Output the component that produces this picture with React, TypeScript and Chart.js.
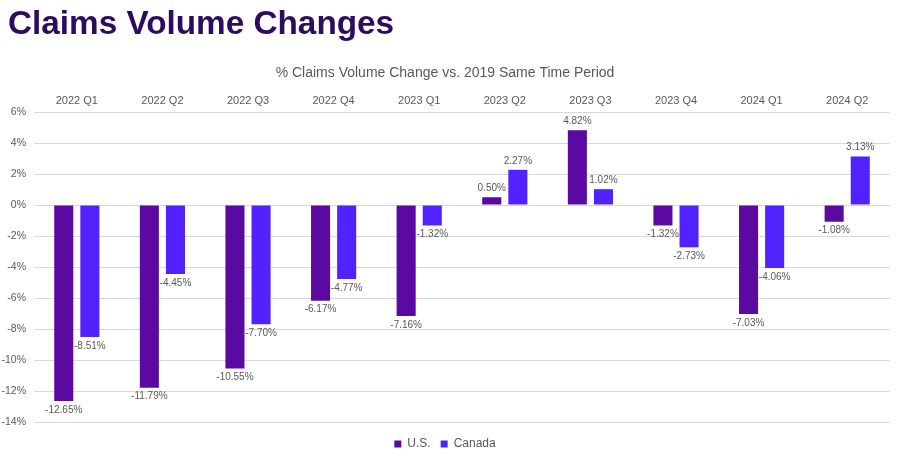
import React, { useEffect, useRef } from "react";
import { Chart, registerables } from "chart.js";

Chart.register(...registerables);

const categories = ["2022 Q1", "2022 Q2", "2022 Q3", "2022 Q4", "2023 Q1", "2023 Q2", "2023 Q3", "2023 Q4", "2024 Q1", "2024 Q2"];
const usValues = [-12.65, -11.79, -10.55, -6.17, -7.16, 0.5, 4.82, -1.32, -7.03, -1.08];
const canadaValues = [-8.51, -4.45, -7.7, -4.77, -1.32, 2.27, 1.02, -2.73, -4.06, 3.13];
const seriesNames = ["U.S.", "Canada"];
const titleText = "Claims Volume Changes";
const subtitleText = "% Claims Volume Change vs. 2019 Same Time Period";

const FONT = "'Liberation Sans', Arial, sans-serif";

const valueLabels = {
  id: "valueLabels",
  afterDatasetsDraw(chart: any) {
    const ctx = chart.ctx;
    ctx.save();
    ctx.font = `10px ${FONT}`;
    ctx.fillStyle = "#595959";
    ctx.textAlign = "center";
    chart.data.datasets.forEach((ds: any, i: number) => {
      const meta = chart.getDatasetMeta(i);
      meta.data.forEach((el: any, j: number) => {
        const v = ds.data[j];
        const txt = v.toFixed(2) + "%";
        if (v >= 0) {
          ctx.textBaseline = "bottom";
          ctx.fillText(txt, el.x, el.y - 4);
        } else {
          ctx.textBaseline = "top";
          ctx.fillText(txt, el.x, el.y + 4);
        }
      });
    });
    ctx.restore();
  },
};

export default function App() {
  const ref = useRef<HTMLCanvasElement | null>(null);
  useEffect(() => {
    if (!ref.current) return;
    const chart = new Chart(ref.current, {
      type: "bar",
      data: {
        labels: categories,
        datasets: [
          { label: seriesNames[0], data: usValues, backgroundColor: "#5A0AA0" },
          { label: seriesNames[1], data: canadaValues, backgroundColor: "#5222FE" },
        ],
      },
      options: {
        animation: false,
        responsive: false,
        maintainAspectRatio: false,
        layout: { padding: { left: 0, right: 10, top: 65, bottom: 0 } },
        datasets: { bar: { categoryPercentage: 0.61, barPercentage: 0.73 } },
        plugins: {
          title: { display: false },
          subtitle: {
            display: true,
            text: subtitleText,
            color: "#595959",
            font: { family: FONT, size: 14 },
            padding: { top: 0, bottom: 9 },
          },
          legend: {
            position: "bottom",
            title: { display: true, text: " ", font: { size: 5 }, padding: 0 },
            labels: {
              boxWidth: 7,
              boxHeight: 7,
              color: "#595959",
              font: { family: FONT, size: 12 },
              padding: 10,
            },
          },
          tooltip: { enabled: false },
        },
        scales: {
          x: {
            position: "top",
            grid: { display: false, drawTicks: false },
            border: { display: false },
            ticks: { color: "#595959", font: { family: FONT, size: 11 }, padding: 4, maxRotation: 0 },
          },
          y: {
            min: -14,
            max: 6,
            afterFit: (scale: any) => {
              scale.width = 34;
            },
            ticks: {
              stepSize: 2,
              color: "#595959",
              font: { family: FONT, size: 10.5 },
              padding: 8,
              callback: (v: any) => v + "%",
            },
            grid: { color: "#D9D9D9", drawTicks: false },
            border: { display: false },
          },
        },
      },
      plugins: [valueLabels],
    });
    return () => chart.destroy();
  }, []);
  return (
    <div style={{ position: "fixed", left: 0, top: 0, width: 900, height: 460, background: "#fff" }}>
      <canvas ref={ref} width={900} height={460} style={{ width: 900, height: 460, display: "block" }} />
      <div
        style={{
          position: "absolute",
          left: 8,
          top: 3,
          height: 40,
          lineHeight: "40px",
          fontFamily: FONT,
          fontWeight: "bold",
          fontSize: 33.3,
          color: "#2E0B5E",
          whiteSpace: "nowrap",
        }}
      >
        {titleText}
      </div>
    </div>
  );
}
